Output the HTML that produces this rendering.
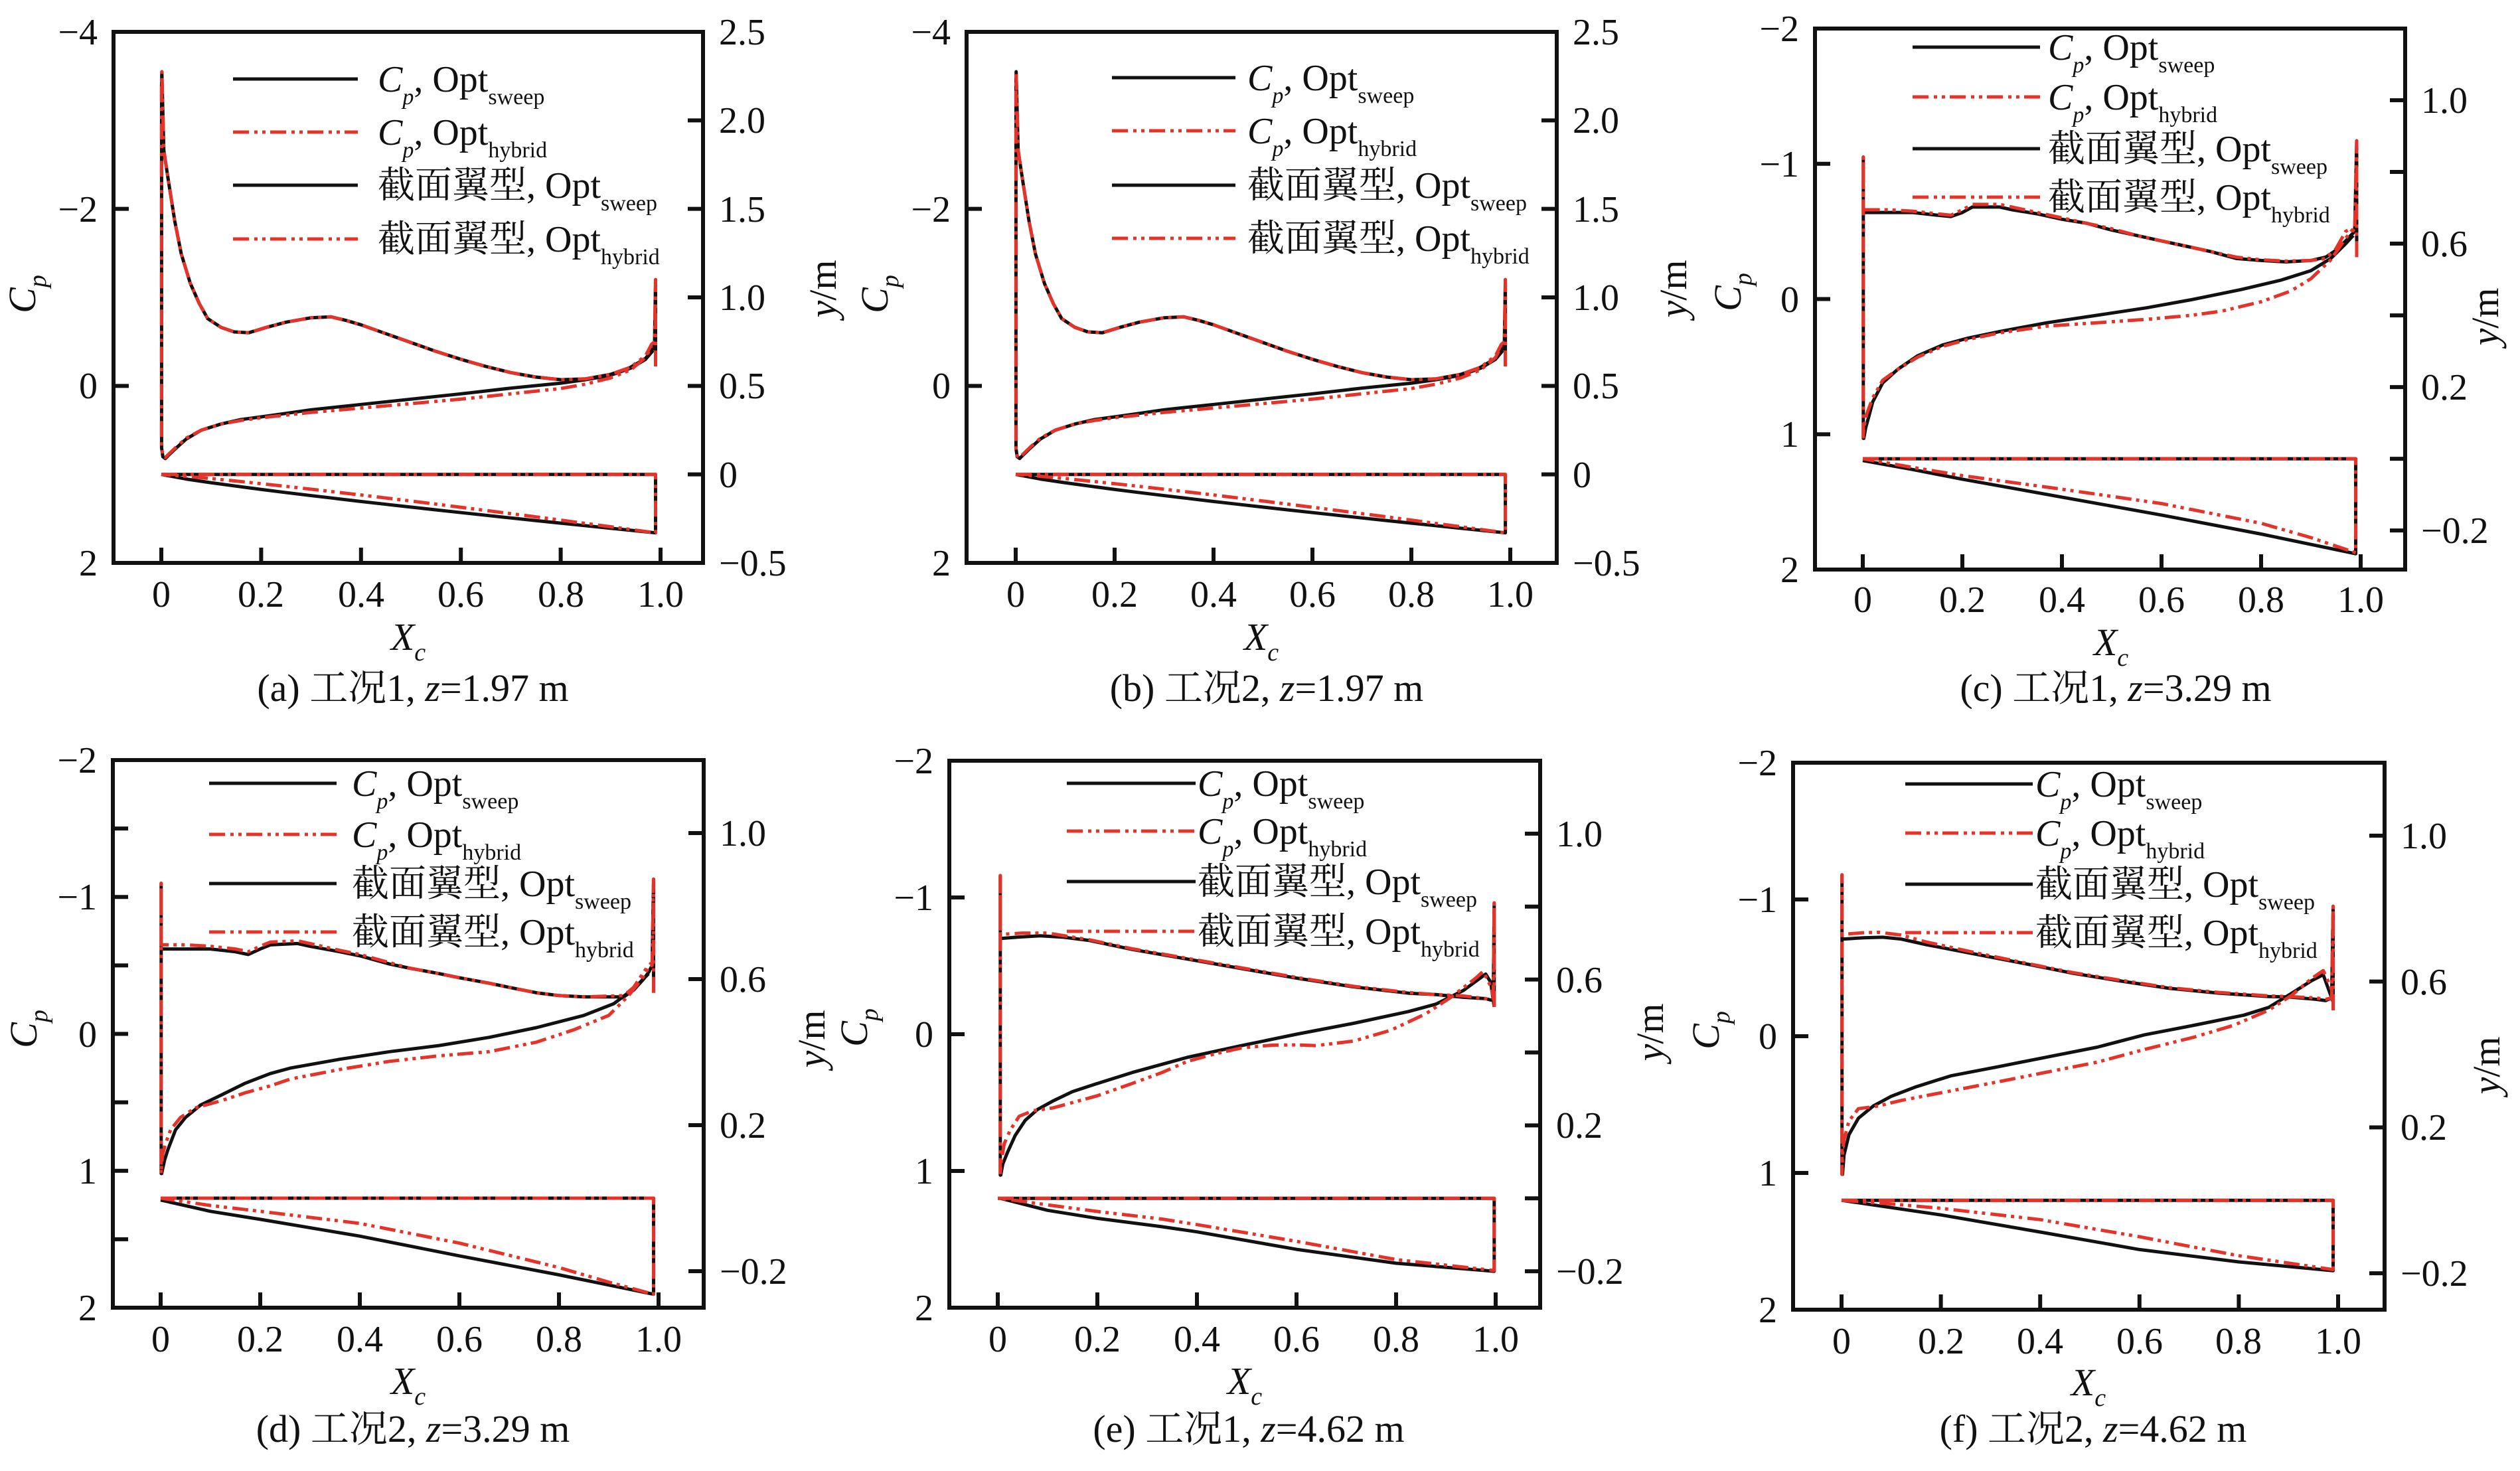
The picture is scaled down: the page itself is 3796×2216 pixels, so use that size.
<!DOCTYPE html>
<html><head><meta charset="utf-8">
<style>
html,body{margin:0;padding:0;background:#fff;}
svg{display:block;}
text{font-family:"Liberation Serif","Noto Serif CJK SC",serif;fill:#111;}
.t{font-size:56px;}
.g{font-size:56px;}
.s{font-size:34px;}
.a{font-size:58px;}
.as{font-size:38px;}
.c{font-size:58px;}
</style></head><body>
<svg id="svg" xmlns="http://www.w3.org/2000/svg" width="3796" height="2216" viewBox="0 0 3796 2216" font-family="'Liberation Serif','Noto Serif CJK SC',serif">
<rect width="3796" height="2216" fill="#fff"/>
<g id="plot"></g>
<g fill="none" stroke="#111" stroke-width="6">
 <rect x="171" y="48" width="888" height="800"/>
 <rect x="1456" y="48" width="889" height="800"/>
 <rect x="2734" y="43" width="889" height="815"/>
 <rect x="170" y="1145" width="890" height="825"/>
 <rect x="1430" y="1146" width="890" height="824"/>
 <rect x="2701" y="1149" width="891" height="824"/>
</g>
<g id="ticks"></g>

<!-- legend lines -->
<g stroke-width="5" fill="none">
 <line x1="351" y1="119" x2="539" y2="119" stroke="#111"/>
 <line x1="351" y1="199" x2="539" y2="199" stroke="#e5332a" stroke-dasharray="24 8 5 7 5 7"/>
 <line x1="351" y1="279" x2="539" y2="279" stroke="#111"/>
 <line x1="351" y1="360" x2="539" y2="360" stroke="#e5332a" stroke-dasharray="24 8 5 7 5 7"/>

 <line x1="1675" y1="117" x2="1861" y2="117" stroke="#111"/>
 <line x1="1675" y1="197" x2="1861" y2="197" stroke="#e5332a" stroke-dasharray="24 8 5 7 5 7"/>
 <line x1="1675" y1="279" x2="1861" y2="279" stroke="#111"/>
 <line x1="1675" y1="359" x2="1861" y2="359" stroke="#e5332a" stroke-dasharray="24 8 5 7 5 7"/>

 <line x1="2881" y1="71" x2="3073" y2="71" stroke="#111"/>
 <line x1="2881" y1="146" x2="3073" y2="146" stroke="#e5332a" stroke-dasharray="24 8 5 7 5 7"/>
 <line x1="2881" y1="224" x2="3073" y2="224" stroke="#111"/>
 <line x1="2881" y1="297" x2="3073" y2="297" stroke="#e5332a" stroke-dasharray="24 8 5 7 5 7"/>

 <line x1="315" y1="1180" x2="507" y2="1180" stroke="#111"/>
 <line x1="315" y1="1257" x2="507" y2="1257" stroke="#e5332a" stroke-dasharray="24 8 5 7 5 7"/>
 <line x1="315" y1="1331" x2="507" y2="1331" stroke="#111"/>
 <line x1="315" y1="1404" x2="507" y2="1404" stroke="#e5332a" stroke-dasharray="24 8 5 7 5 7"/>

 <line x1="1607" y1="1180" x2="1801" y2="1180" stroke="#111"/>
 <line x1="1607" y1="1252" x2="1801" y2="1252" stroke="#e5332a" stroke-dasharray="24 8 5 7 5 7"/>
 <line x1="1607" y1="1328" x2="1801" y2="1328" stroke="#111"/>
 <line x1="1607" y1="1403" x2="1801" y2="1403" stroke="#e5332a" stroke-dasharray="24 8 5 7 5 7"/>

 <line x1="2870" y1="1181" x2="3062" y2="1181" stroke="#111"/>
 <line x1="2870" y1="1255" x2="3062" y2="1255" stroke="#e5332a" stroke-dasharray="24 8 5 7 5 7"/>
 <line x1="2870" y1="1332" x2="3062" y2="1332" stroke="#111"/>
 <line x1="2870" y1="1405" x2="3062" y2="1405" stroke="#e5332a" stroke-dasharray="24 8 5 7 5 7"/>
</g>

<!-- ================= Panel (a) ================= -->
<g class="t" text-anchor="end">
 <text x="147" y="67">−4</text><text x="147" y="334">−2</text><text x="147" y="600">0</text><text x="147" y="867">2</text>
</g>
<g class="t">
 <text x="1083" y="67">2.5</text><text x="1083" y="200">2.0</text><text x="1083" y="334">1.5</text><text x="1083" y="467">1.0</text><text x="1083" y="600">0.5</text><text x="1083" y="734">0</text><text x="1083" y="867">−0.5</text>
</g>
<g class="t" text-anchor="middle">
 <text x="243" y="914">0</text><text x="393" y="914">0.2</text><text x="544" y="914">0.4</text><text x="694" y="914">0.6</text><text x="845" y="914">0.8</text><text x="995" y="914">1.0</text>
</g>
<text class="g" x="569" y="138"><tspan font-style="italic">C</tspan><tspan class="s" font-style="italic" dy="19">p</tspan><tspan dy="-19">, Opt</tspan><tspan class="s" dy="19">sweep</tspan></text>
<text class="g" x="569" y="218"><tspan font-style="italic">C</tspan><tspan class="s" font-style="italic" dy="19">p</tspan><tspan dy="-19">, Opt</tspan><tspan class="s" dy="19">hybrid</tspan></text>
<text class="g" x="569" y="298">截面翼型, Opt<tspan class="s" dy="19">sweep</tspan></text>
<text class="g" x="569" y="379">截面翼型, Opt<tspan class="s" dy="19">hybrid</tspan></text>
<text class="a" transform="translate(53,443) rotate(-90)" text-anchor="middle"><tspan font-style="italic">C</tspan><tspan class="as" font-style="italic" dy="16">p</tspan></text>
<text class="a" transform="translate(1259,435) rotate(-90)" text-anchor="middle"><tspan font-style="italic">y</tspan>/m</text>
<text class="a" x="615" y="979" text-anchor="middle"><tspan font-style="italic">X</tspan><tspan class="as" font-style="italic" dy="16">c</tspan></text>
<text class="c" x="622" y="1056" text-anchor="middle">(a) 工况1, <tspan font-style="italic">z</tspan>=1.97 m</text>

<!-- ================= Panel (b) ================= -->
<g class="t" text-anchor="end">
 <text x="1432" y="67">−4</text><text x="1432" y="334">−2</text><text x="1432" y="600">0</text><text x="1432" y="867">2</text>
</g>
<g class="t">
 <text x="2369" y="67">2.5</text><text x="2369" y="200">2.0</text><text x="2369" y="334">1.5</text><text x="2369" y="467">1.0</text><text x="2369" y="600">0.5</text><text x="2369" y="734">0</text><text x="2369" y="867">−0.5</text>
</g>
<g class="t" text-anchor="middle">
 <text x="1530" y="914">0</text><text x="1679" y="914">0.2</text><text x="1828" y="914">0.4</text><text x="1977" y="914">0.6</text><text x="2126" y="914">0.8</text><text x="2275" y="914">1.0</text>
</g>
<text class="g" x="1879" y="136"><tspan font-style="italic">C</tspan><tspan class="s" font-style="italic" dy="19">p</tspan><tspan dy="-19">, Opt</tspan><tspan class="s" dy="19">sweep</tspan></text>
<text class="g" x="1879" y="216"><tspan font-style="italic">C</tspan><tspan class="s" font-style="italic" dy="19">p</tspan><tspan dy="-19">, Opt</tspan><tspan class="s" dy="19">hybrid</tspan></text>
<text class="g" x="1879" y="298">截面翼型, Opt<tspan class="s" dy="19">sweep</tspan></text>
<text class="g" x="1879" y="378">截面翼型, Opt<tspan class="s" dy="19">hybrid</tspan></text>
<text class="a" transform="translate(1337,443) rotate(-90)" text-anchor="middle"><tspan font-style="italic">C</tspan><tspan class="as" font-style="italic" dy="16">p</tspan></text>
<text class="a" transform="translate(2540,435) rotate(-90)" text-anchor="middle"><tspan font-style="italic">y</tspan>/m</text>
<text class="a" x="1900" y="979" text-anchor="middle"><tspan font-style="italic">X</tspan><tspan class="as" font-style="italic" dy="16">c</tspan></text>
<text class="c" x="1908" y="1056" text-anchor="middle">(b) 工况2, <tspan font-style="italic">z</tspan>=1.97 m</text>

<!-- ================= Panel (c) ================= -->
<g class="t" text-anchor="end">
 <text x="2710" y="62">−2</text><text x="2710" y="266">−1</text><text x="2710" y="470">0</text><text x="2710" y="673">1</text><text x="2710" y="877">2</text>
</g>
<g class="t">
 <text x="3647" y="170">1.0</text><text x="3647" y="386">0.6</text><text x="3647" y="602">0.2</text><text x="3647" y="818">−0.2</text>
</g>
<g class="t" text-anchor="middle">
 <text x="2806" y="922">0</text><text x="2956" y="922">0.2</text><text x="3106" y="922">0.4</text><text x="3256" y="922">0.6</text><text x="3406" y="922">0.8</text><text x="3556" y="922">1.0</text>
</g>
<text class="g" x="3085" y="90"><tspan font-style="italic">C</tspan><tspan class="s" font-style="italic" dy="19">p</tspan><tspan dy="-19">, Opt</tspan><tspan class="s" dy="19">sweep</tspan></text>
<text class="g" x="3085" y="165"><tspan font-style="italic">C</tspan><tspan class="s" font-style="italic" dy="19">p</tspan><tspan dy="-19">, Opt</tspan><tspan class="s" dy="19">hybrid</tspan></text>
<text class="g" x="3085" y="243">截面翼型, Opt<tspan class="s" dy="19">sweep</tspan></text>
<text class="g" x="3085" y="316">截面翼型, Opt<tspan class="s" dy="19">hybrid</tspan></text>
<text class="a" transform="translate(2622,440) rotate(-90)" text-anchor="middle"><tspan font-style="italic">C</tspan><tspan class="as" font-style="italic" dy="16">p</tspan></text>
<text class="a" transform="translate(3763,477) rotate(-90)" text-anchor="middle"><tspan font-style="italic">y</tspan>/m</text>
<text class="a" x="3180" y="987" text-anchor="middle"><tspan font-style="italic">X</tspan><tspan class="as" font-style="italic" dy="16">c</tspan></text>
<text class="c" x="3187" y="1056" text-anchor="middle">(c) 工况1, <tspan font-style="italic">z</tspan>=3.29 m</text>

<!-- ================= Panel (d) ================= -->
<g class="t" text-anchor="end">
 <text x="146" y="1164">−2</text><text x="146" y="1370">−1</text><text x="146" y="1577">0</text><text x="146" y="1783">1</text><text x="146" y="1989">2</text>
</g>
<g class="t">
 <text x="1084" y="1274">1.0</text><text x="1084" y="1494">0.6</text><text x="1084" y="1714">0.2</text><text x="1084" y="1934">−0.2</text>
</g>
<g class="t" text-anchor="middle">
 <text x="242" y="2036">0</text><text x="392" y="2036">0.2</text><text x="542" y="2036">0.4</text><text x="692" y="2036">0.6</text><text x="842" y="2036">0.8</text><text x="992" y="2036">1.0</text>
</g>
<text class="g" x="530" y="1199"><tspan font-style="italic">C</tspan><tspan class="s" font-style="italic" dy="19">p</tspan><tspan dy="-19">, Opt</tspan><tspan class="s" dy="19">sweep</tspan></text>
<text class="g" x="530" y="1276"><tspan font-style="italic">C</tspan><tspan class="s" font-style="italic" dy="19">p</tspan><tspan dy="-19">, Opt</tspan><tspan class="s" dy="19">hybrid</tspan></text>
<text class="g" x="530" y="1350">截面翼型, Opt<tspan class="s" dy="19">sweep</tspan></text>
<text class="g" x="530" y="1423">截面翼型, Opt<tspan class="s" dy="19">hybrid</tspan></text>
<text class="a" transform="translate(55,1550) rotate(-90)" text-anchor="middle"><tspan font-style="italic">C</tspan><tspan class="as" font-style="italic" dy="16">p</tspan></text>
<text class="a" transform="translate(1242,1565) rotate(-90)" text-anchor="middle"><tspan font-style="italic">y</tspan>/m</text>
<text class="a" x="615" y="2100" text-anchor="middle"><tspan font-style="italic">X</tspan><tspan class="as" font-style="italic" dy="16">c</tspan></text>
<text class="c" x="622" y="2172" text-anchor="middle">(d) 工况2, <tspan font-style="italic">z</tspan>=3.29 m</text>

<!-- ================= Panel (e) ================= -->
<g class="t" text-anchor="end">
 <text x="1406" y="1165">−2</text><text x="1406" y="1371">−1</text><text x="1406" y="1577">0</text><text x="1406" y="1783">1</text><text x="1406" y="1989">2</text>
</g>
<g class="t">
 <text x="2344" y="1275">1.0</text><text x="2344" y="1495">0.6</text><text x="2344" y="1714">0.2</text><text x="2344" y="1934">−0.2</text>
</g>
<g class="t" text-anchor="middle">
 <text x="1503" y="2036">0</text><text x="1653" y="2036">0.2</text><text x="1803" y="2036">0.4</text><text x="1953" y="2036">0.6</text><text x="2103" y="2036">0.8</text><text x="2253" y="2036">1.0</text>
</g>
<text class="g" x="1804" y="1199"><tspan font-style="italic">C</tspan><tspan class="s" font-style="italic" dy="19">p</tspan><tspan dy="-19">, Opt</tspan><tspan class="s" dy="19">sweep</tspan></text>
<text class="g" x="1804" y="1271"><tspan font-style="italic">C</tspan><tspan class="s" font-style="italic" dy="19">p</tspan><tspan dy="-19">, Opt</tspan><tspan class="s" dy="19">hybrid</tspan></text>
<text class="g" x="1804" y="1347">截面翼型, Opt<tspan class="s" dy="19">sweep</tspan></text>
<text class="g" x="1804" y="1422">截面翼型, Opt<tspan class="s" dy="19">hybrid</tspan></text>
<text class="a" transform="translate(1306,1548) rotate(-90)" text-anchor="middle"><tspan font-style="italic">C</tspan><tspan class="as" font-style="italic" dy="16">p</tspan></text>
<text class="a" transform="translate(2505,1555) rotate(-90)" text-anchor="middle"><tspan font-style="italic">y</tspan>/m</text>
<text class="a" x="1875" y="2100" text-anchor="middle"><tspan font-style="italic">X</tspan><tspan class="as" font-style="italic" dy="16">c</tspan></text>
<text class="c" x="1881" y="2172" text-anchor="middle">(e) 工况1, <tspan font-style="italic">z</tspan>=4.62 m</text>

<!-- ================= Panel (f) ================= -->
<g class="t" text-anchor="end">
 <text x="2677" y="1168">−2</text><text x="2677" y="1374">−1</text><text x="2677" y="1580">0</text><text x="2677" y="1786">1</text><text x="2677" y="1992">2</text>
</g>
<g class="t">
 <text x="3616" y="1278">1.0</text><text x="3616" y="1498">0.6</text><text x="3616" y="1717">0.2</text><text x="3616" y="1937">−0.2</text>
</g>
<g class="t" text-anchor="middle">
 <text x="2774" y="2039">0</text><text x="2924" y="2039">0.2</text><text x="3073" y="2039">0.4</text><text x="3223" y="2039">0.6</text><text x="3372" y="2039">0.8</text><text x="3522" y="2039">1.0</text>
</g>
<text class="g" x="3066" y="1200"><tspan font-style="italic">C</tspan><tspan class="s" font-style="italic" dy="19">p</tspan><tspan dy="-19">, Opt</tspan><tspan class="s" dy="19">sweep</tspan></text>
<text class="g" x="3066" y="1274"><tspan font-style="italic">C</tspan><tspan class="s" font-style="italic" dy="19">p</tspan><tspan dy="-19">, Opt</tspan><tspan class="s" dy="19">hybrid</tspan></text>
<text class="g" x="3066" y="1351">截面翼型, Opt<tspan class="s" dy="19">sweep</tspan></text>
<text class="g" x="3066" y="1424">截面翼型, Opt<tspan class="s" dy="19">hybrid</tspan></text>
<text class="a" transform="translate(2589,1552) rotate(-90)" text-anchor="middle"><tspan font-style="italic">C</tspan><tspan class="as" font-style="italic" dy="16">p</tspan></text>
<text class="a" transform="translate(3765,1605) rotate(-90)" text-anchor="middle"><tspan font-style="italic">y</tspan>/m</text>
<text class="a" x="3146" y="2102" text-anchor="middle"><tspan font-style="italic">X</tspan><tspan class="as" font-style="italic" dy="16">c</tspan></text>
<text class="c" x="3153" y="2172" text-anchor="middle">(f) 工况2, <tspan font-style="italic">z</tspan>=4.62 m</text>
</svg>
<script>
(function(){
var NS='http://www.w3.org/2000/svg';
var plot=document.getElementById('plot'), tk=document.getElementById('ticks');
function el(t,a,par){var e=document.createElementNS(NS,t);for(var k in a)e.setAttribute(k,a[k]);par.appendChild(e);return e;}
var BLK='#111', RED='#e5332a', DASH='24 8 5 7 5 7';
function P(L,R,T,B,x0,x1,cp,ym,lt,rt){return {L:L,R:R,T:T,B:B,x0:x0,x1:x1,cp:cp,ym:ym,lt:lt,rt:rt};}
var r02=[-0.2,0,0.2,0.4,0.6,0.8,1.0], r04=[-0.2,0.2,0.6,1.0];
var pa=P(171,1059,48,848,243,995,[-4,2],[-0.5,2.5],[-2,0],[0,0.5,1,1.5,2]);
var pb=P(1456,2345,48,848,1530,2275,[-4,2],[-0.5,2.5],[-2,0],[0,0.5,1,1.5,2]);
var pc=P(2734,3623,43,858,2806,3556,[-2,2],[-0.309,1.2],[-1,0,1],r02);
var pd=P(170,1060,1145,1970,242,992,[-2,2],[-0.3,1.2],[-1.5,-1,-0.5,0,0.5,1,1.5],r04);
var pe=P(1430,2320,1146,1970,1503,2253,[-2,2],[-0.3,1.2],[-1,0,1],r02);
var pf=P(2701,3592,1149,1973,2774,3522,[-2,2],[-0.3,1.2],[-1,0,1],r04);
function X(p,x){return p.x0+(p.x1-p.x0)*x;}
function YC(p,c){return p.T+(c-p.cp[0])/(p.cp[1]-p.cp[0])*(p.B-p.T);}
function YM(p,v){return p.B-(v-p.ym[0])/(p.ym[1]-p.ym[0])*(p.B-p.T);}
function line(p,pts,f,red){
  var d='';for(var i=0;i<pts.length;i++){d+=(i?'L':'M')+X(p,pts[i][0]).toFixed(1)+' '+f(p,pts[i][1]).toFixed(1);}
  var a={d:d,fill:'none',stroke:red?RED:BLK,'stroke-width':5,'stroke-linejoin':'round'};
  if(red)a['stroke-dasharray']=DASH;
  el('path',a,plot);
}
function cpc(te,up,le,lo){return te.concat(up.slice().reverse(),le,lo);}
function foil(xte,lo){return [[0,0],[xte,0]].concat(lo.slice().reverse());}
function powfoil(yte,e,xte){var a=[];for(var i=0;i<=20;i++){a.push([xte*i/20,-yte*Math.pow(i/20,e)]);}return a;}
function panel(p,cb,cr,fb,fr){line(p,cb,YC,false);line(p,cr,YC,true);line(p,fb,YM,false);line(p,fr,YM,true);}

/* ---- a / b ---- */
var upA=[[0.001,-3.55],[0.003,-3.1],[0.005,-2.66],[0.013,-2.36],[0.027,-1.86],[0.04,-1.49],[0.058,-1.16],[0.076,-0.93],[0.093,-0.76],[0.12,-0.66],[0.146,-0.61],[0.175,-0.6],[0.21,-0.66],[0.25,-0.72],[0.3,-0.77],[0.34,-0.78],[0.37,-0.74],[0.4,-0.69],[0.45,-0.59],[0.5,-0.49],[0.55,-0.39],[0.6,-0.3],[0.65,-0.22],[0.7,-0.15],[0.75,-0.1],[0.8,-0.07],[0.85,-0.08],[0.9,-0.13],[0.94,-0.21],[0.97,-0.31],[0.985,-0.42]];
var upAr=upA.slice(0,upA.length-2).concat([[0.97,-0.34],[0.982,-0.47]]);
var loA=[[0.001,0.72],[0.003,0.8],[0.008,0.82],[0.015,0.78],[0.03,0.7],[0.05,0.6],[0.08,0.5],[0.12,0.43],[0.16,0.38],[0.2,0.35],[0.25,0.31],[0.3,0.27],[0.4,0.21],[0.5,0.15],[0.6,0.09],[0.7,0.025],[0.8,-0.03],[0.85,-0.07],[0.9,-0.12],[0.94,-0.2],[0.97,-0.3],[0.985,-0.4]];
var loAr=[[0.001,0.72],[0.003,0.79],[0.008,0.81],[0.015,0.77],[0.03,0.69],[0.05,0.59],[0.08,0.5],[0.12,0.43],[0.16,0.39],[0.2,0.36],[0.3,0.3],[0.4,0.25],[0.5,0.2],[0.6,0.15],[0.7,0.09],[0.8,0.03],[0.85,-0.02],[0.9,-0.09],[0.94,-0.18],[0.97,-0.32],[0.982,-0.45]];
var teA=[[0.99,-0.22],[0.99,-1.2],[0.988,-0.5]], leA=[[0.0005,-3.4],[0.0005,0.7]];
var cA=cpc(teA,upA,leA,loA), cAr=cpc(teA,upAr,leA,loAr);
var fA=foil(0.99,powfoil(0.33,0.85,0.99)), fAr=foil(0.99,powfoil(0.33,1.15,0.99));
panel(pa,cA,cAr,fA,fAr);
panel(pb,cA,cAr,fA,fAr);

/* ---- c ---- */
var upC=[[0.002,-0.64],[0.05,-0.64],[0.1,-0.64],[0.15,-0.62],[0.177,-0.61],[0.2,-0.64],[0.22,-0.68],[0.275,-0.68],[0.3,-0.66],[0.35,-0.63],[0.4,-0.59],[0.45,-0.56],[0.5,-0.51],[0.55,-0.47],[0.6,-0.43],[0.65,-0.39],[0.7,-0.35],[0.75,-0.3],[0.8,-0.285],[0.85,-0.275],[0.9,-0.285],[0.93,-0.31],[0.95,-0.36],[0.97,-0.43],[0.98,-0.47]];
var upCr=[[0.002,-0.66],[0.05,-0.66],[0.1,-0.65],[0.15,-0.63],[0.177,-0.62],[0.2,-0.66],[0.22,-0.7],[0.275,-0.7],[0.3,-0.68],[0.35,-0.64],[0.4,-0.6],[0.45,-0.56],[0.5,-0.52],[0.55,-0.47],[0.6,-0.43],[0.65,-0.39],[0.7,-0.35],[0.75,-0.31],[0.8,-0.29],[0.85,-0.28],[0.9,-0.285],[0.93,-0.3],[0.95,-0.37],[0.97,-0.5],[0.98,-0.52]];
var loC=[[0.002,1.03],[0.006,0.95],[0.012,0.87],[0.02,0.76],[0.04,0.62],[0.07,0.52],[0.11,0.42],[0.16,0.34],[0.21,0.29],[0.275,0.24],[0.37,0.175],[0.47,0.12],[0.57,0.065],[0.66,0.005],[0.76,-0.07],[0.84,-0.14],[0.9,-0.21],[0.94,-0.3],[0.97,-0.41],[0.985,-0.47]];
var loCr=[[0.002,0.95],[0.008,0.85],[0.02,0.73],[0.04,0.6],[0.07,0.52],[0.11,0.43],[0.16,0.35],[0.21,0.3],[0.275,0.25],[0.37,0.2],[0.47,0.175],[0.57,0.15],[0.66,0.12],[0.72,0.09],[0.8,0.02],[0.86,-0.06],[0.9,-0.15],[0.94,-0.29],[0.97,-0.45],[0.985,-0.52]];
var teC=[[0.992,-0.31],[0.992,-1.17],[0.988,-0.5]];
panel(pc,cpc(teC,upC,[[0.001,-0.64],[0.001,-1.05],[0.001,1.03]],loC),
         cpc(teC,upCr,[[0.001,-0.66],[0.001,-1.05],[0.001,1.03]],loCr),
         foil(0.99,[[0,-0.005],[0.1,-0.03],[0.2,-0.057],[0.4,-0.107],[0.6,-0.157],[0.8,-0.21],[0.99,-0.265]]),
         foil(0.99,[[0,0],[0.1,-0.024],[0.2,-0.047],[0.4,-0.085],[0.6,-0.125],[0.8,-0.18],[0.9,-0.22],[0.99,-0.262]]));

/* ---- d ---- */
var upD=[[0.002,-0.62],[0.05,-0.62],[0.1,-0.62],[0.15,-0.6],[0.176,-0.58],[0.2,-0.62],[0.22,-0.65],[0.275,-0.66],[0.3,-0.64],[0.36,-0.6],[0.4,-0.57],[0.46,-0.51],[0.5,-0.48],[0.56,-0.44],[0.6,-0.41],[0.66,-0.37],[0.7,-0.34],[0.755,-0.3],[0.8,-0.28],[0.85,-0.27],[0.93,-0.27],[0.95,-0.32],[0.97,-0.4],[0.98,-0.45]];
var upDr=[[0.002,-0.65],[0.05,-0.65],[0.1,-0.64],[0.15,-0.62],[0.176,-0.6],[0.2,-0.64],[0.22,-0.67],[0.275,-0.68],[0.3,-0.66],[0.36,-0.61],[0.4,-0.58],[0.46,-0.52],[0.5,-0.48],[0.56,-0.44],[0.6,-0.41],[0.66,-0.37],[0.7,-0.34],[0.755,-0.3],[0.8,-0.28],[0.85,-0.27],[0.93,-0.28],[0.95,-0.34],[0.97,-0.45],[0.98,-0.5]];
var loD=[[0.002,1.02],[0.008,0.92],[0.015,0.84],[0.03,0.7],[0.05,0.61],[0.08,0.52],[0.12,0.45],[0.17,0.36],[0.22,0.29],[0.26,0.25],[0.36,0.185],[0.46,0.13],[0.56,0.085],[0.66,0.025],[0.755,-0.046],[0.85,-0.135],[0.91,-0.22],[0.95,-0.33],[0.98,-0.44]];
var loDr=[[0.002,0.95],[0.004,0.88],[0.01,0.8],[0.02,0.7],[0.04,0.61],[0.07,0.54],[0.12,0.49],[0.17,0.43],[0.22,0.38],[0.26,0.33],[0.36,0.26],[0.46,0.2],[0.56,0.16],[0.66,0.13],[0.755,0.06],[0.83,-0.03],[0.9,-0.135],[0.94,-0.28],[0.97,-0.42],[0.985,-0.52]];
var teD=[[0.99,-0.3],[0.99,-1.13],[0.987,-0.5]];
panel(pd,cpc(teD,upD,[[0.001,-0.62],[0.001,-1.1],[0.001,1.02]],loD),
         cpc(teD,upDr,[[0.001,-0.65],[0.001,-1.1],[0.001,1.02]],loDr),
         foil(0.99,[[0,-0.005],[0.1,-0.036],[0.2,-0.058],[0.4,-0.104],[0.6,-0.158],[0.8,-0.21],[0.99,-0.263]]),
         foil(0.99,[[0,0],[0.1,-0.02],[0.2,-0.036],[0.4,-0.069],[0.6,-0.123],[0.8,-0.19],[0.9,-0.23],[0.99,-0.263]]));

/* ---- e ---- */
var upE=[[0.006,-0.7],[0.04,-0.71],[0.085,-0.72],[0.13,-0.71],[0.185,-0.685],[0.27,-0.62],[0.38,-0.55],[0.49,-0.48],[0.6,-0.41],[0.715,-0.346],[0.825,-0.3],[0.88,-0.29],[0.935,-0.27],[0.98,-0.26],[0.99,-0.25]];
var upEr=[[0.006,-0.73],[0.05,-0.74],[0.1,-0.74],[0.15,-0.71],[0.185,-0.69],[0.27,-0.625],[0.38,-0.555],[0.49,-0.485],[0.6,-0.415],[0.715,-0.35],[0.825,-0.305],[0.88,-0.29],[0.935,-0.28],[0.98,-0.26],[0.99,-0.25]];
var loE=[[0.006,1.03],[0.01,0.95],[0.02,0.86],[0.035,0.74],[0.055,0.63],[0.08,0.55],[0.11,0.49],[0.15,0.42],[0.2,0.36],[0.27,0.28],[0.33,0.22],[0.38,0.17],[0.49,0.083],[0.6,0.0],[0.715,-0.08],[0.825,-0.166],[0.88,-0.22],[0.935,-0.32],[0.98,-0.44],[0.99,-0.38],[0.997,-0.2]];
var loEr=[[0.006,0.95],[0.013,0.8],[0.025,0.7],[0.043,0.6],[0.07,0.56],[0.11,0.54],[0.15,0.5],[0.2,0.45],[0.27,0.36],[0.33,0.28],[0.38,0.2],[0.44,0.14],[0.49,0.1],[0.55,0.08],[0.6,0.078],[0.64,0.083],[0.715,0.05],[0.79,-0.03],[0.86,-0.15],[0.91,-0.27],[0.96,-0.41],[0.975,-0.46],[0.99,-0.35],[0.997,-0.25]];
var teE=[[0.997,-0.2],[0.997,-0.96],[0.995,-0.25]];
panel(pe,cpc(teE,upE,[[0.005,-0.7],[0.005,-1.16],[0.005,1.03]],loE),
         cpc(teE,upEr,[[0.005,-0.73],[0.005,-1.16],[0.005,1.03]],loEr),
         foil(0.997,[[0.005,0],[0.1,-0.033],[0.2,-0.055],[0.33,-0.078],[0.4,-0.092],[0.6,-0.14],[0.8,-0.178],[0.997,-0.2]]),
         foil(0.997,[[0.005,0],[0.1,-0.018],[0.2,-0.036],[0.33,-0.057],[0.4,-0.072],[0.6,-0.118],[0.8,-0.168],[0.997,-0.198]]));

/* ---- f ---- */
var upF=[[0.002,-0.71],[0.044,-0.72],[0.083,-0.724],[0.12,-0.71],[0.17,-0.67],[0.27,-0.6],[0.37,-0.53],[0.466,-0.46],[0.56,-0.405],[0.66,-0.35],[0.76,-0.315],[0.86,-0.29],[0.9,-0.287],[0.955,-0.27],[0.975,-0.26]];
var upFr=[[0.002,-0.745],[0.044,-0.757],[0.075,-0.76],[0.12,-0.74],[0.17,-0.69],[0.27,-0.61],[0.37,-0.535],[0.466,-0.465],[0.56,-0.41],[0.66,-0.355],[0.76,-0.32],[0.86,-0.295],[0.9,-0.29],[0.955,-0.28],[0.975,-0.27]];
var loF=[[0.002,1.01],[0.005,0.87],[0.015,0.72],[0.034,0.6],[0.064,0.51],[0.1,0.44],[0.15,0.37],[0.22,0.29],[0.32,0.22],[0.417,0.15],[0.515,0.08],[0.61,-0.01],[0.71,-0.08],[0.81,-0.154],[0.86,-0.21],[0.907,-0.315],[0.946,-0.405],[0.97,-0.45],[0.985,-0.3],[0.99,-0.25]];
var loFr=[[0.002,0.85],[0.005,0.76],[0.015,0.62],[0.034,0.53],[0.074,0.51],[0.12,0.47],[0.22,0.4],[0.32,0.33],[0.417,0.26],[0.515,0.19],[0.61,0.097],[0.71,0.007],[0.79,-0.08],[0.86,-0.19],[0.907,-0.3],[0.946,-0.42],[0.97,-0.48],[0.985,-0.36],[0.99,-0.25]];
var teF=[[0.99,-0.19],[0.99,-0.95],[0.987,-0.28]];
panel(pf,cpc(teF,upF,[[0.001,-0.71],[0.001,-1.18],[0.001,1.01]],loF),
         cpc(teF,upFr,[[0.001,-0.745],[0.001,-1.18],[0.001,1.01]],loFr),
         foil(0.99,[[0,0],[0.1,-0.02],[0.2,-0.04],[0.4,-0.087],[0.6,-0.135],[0.8,-0.169],[0.99,-0.193]]),
         foil(0.99,[[0,0],[0.1,-0.01],[0.2,-0.022],[0.4,-0.053],[0.6,-0.1],[0.8,-0.152],[0.99,-0.19]]));

/* ---- ticks ---- */
[pa,pb,pc,pd,pe,pf].forEach(function(p){
  var ta={stroke:BLK,'stroke-width':6};
  p.lt.forEach(function(c){var y=YC(p,c);var a=Object.assign({x1:p.L,x2:p.L+23,y1:y,y2:y},ta);el('line',a,tk);});
  p.rt.forEach(function(v){var y=YM(p,v);var a=Object.assign({x1:p.R-23,x2:p.R,y1:y,y2:y},ta);el('line',a,tk);});
  [0,0.2,0.4,0.6,0.8,1].forEach(function(x){var xx=X(p,x);var a=Object.assign({x1:xx,x2:xx,y1:p.B-23,y2:p.B},ta);el('line',a,tk);});
});
})();
</script>
</body></html>
